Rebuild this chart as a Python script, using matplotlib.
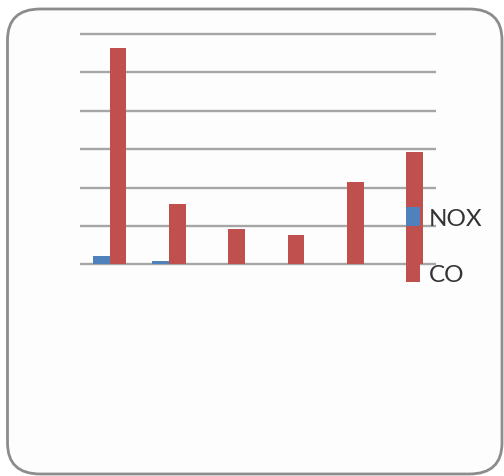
import matplotlib.pyplot as plt
from matplotlib.patches import FancyBboxPatch, Patch
import numpy as np

# emissions per test case
cases = ["1", "2", "3", "4", "5", "6"]
nox = [0.21, 0.08, 0.0, 0.0, 0.0, 0.0]
co = [5.64, 1.58, 0.92, 0.77, 2.14, 2.93]

blue = "#4F81BD"
red = "#C0504D"

fig = plt.figure(figsize=(5.04, 4.77), dpi=100)
fig.patch.set_facecolor("white")

# rounded frame around the whole chart
frame = FancyBboxPatch((7.5 / 504, 2 / 477), 494.5 / 504, 465 / 477,
                       boxstyle="round,pad=0,rounding_size=0.065",
                       transform=fig.transFigure, facecolor="#FDFDFD",
                       edgecolor="#8C8C8C", linewidth=2.0, zorder=-5)
fig.patches.append(frame)

# a little slack above and below so the outer gridlines are not clipped
pad = 0.05
ax = fig.add_axes([80 / 504, (211.5 - 38.4 * pad) / 477,
                   356 / 504, (230.5 + 2 * 38.4 * pad) / 477])
ax.patch.set_alpha(0)

x = np.arange(len(cases))
w = 0.28
ax.bar(x - w / 2, nox, width=w, color=blue, zorder=3)
ax.bar(x + w / 2, co, width=w, color=red, zorder=3)

ax.set_xlim(-0.5, len(cases) - 0.5)
ax.set_ylim(-pad, 6 + pad)
ax.set_yticks(np.arange(0, 7, 1))
ax.grid(axis="y", color="#A6A6A6", linewidth=1.7, zorder=1)
ax.tick_params(left=False, bottom=False, labelleft=False, labelbottom=False)
for s in ax.spines.values():
    s.set_visible(False)
ax.set_axisbelow(True)

handles = [Patch(facecolor=blue), Patch(facecolor=red)]
leg = fig.legend(handles, ["NOX", "CO"], loc="center left",
                 bbox_to_anchor=(405.5 / 504, 1 - 247 / 477), frameon=False,
                 prop={"family": "Lato", "size": 17.5}, labelcolor="#333333",
                 handlelength=0.6, handleheight=0.8, handletextpad=0.35,
                 labelspacing=1.4, borderaxespad=0, borderpad=0)
leg.set_zorder(5)

plt.savefig("out.png", dpi=100)
